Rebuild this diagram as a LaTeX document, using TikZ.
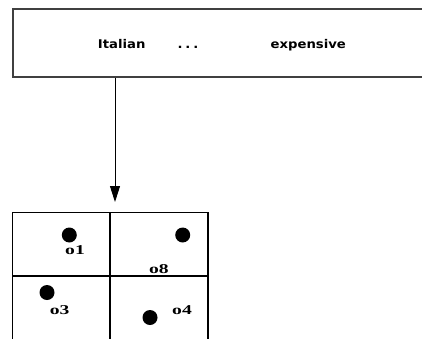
\documentclass[tikz,border=0pt]{standalone}
\usepackage{fontspec}
\usepackage{graphicx}
\setmainfont{Liberation Serif}
\newfontfamily\headfont{DejaVu Sans}
\usetikzlibrary{arrows.meta}
\newcommand{\widehead}[1]{\scalebox{1.1}[1]{#1}}
\newcommand{\widelabel}[1]{\scalebox{1.45}[1]{#1}}
\tikzset{
  x=1pt, y=-1pt,
  frame/.style={draw=black!75, line width=1.5pt},
  cellline/.style={draw=black, line width=1.3pt},
  attr/.style={font=\headfont\bfseries\fontsize{12}{13}\selectfont, inner sep=0pt, anchor=base},
  obj/.style={circle, fill=black, inner sep=0pt, minimum size=15pt},
  objlabel/.style={font=\bfseries\fontsize{13.5}{14}\selectfont, inner sep=0pt},
  link/.style={draw=black, line width=0.9pt, -{Triangle[length=16pt,width=10pt]}}
}
\begin{document}
\begin{tikzpicture}
  \useasboundingbox (0,0) rectangle (422,338);
  \clip (0,0) rectangle (422,338);

  % attribute header box
  \node[frame, minimum width=428pt, minimum height=68pt, anchor=north west, inner sep=0pt] (query) at (12,8) {};
  \node[attr] (italian) at (121.7,48) {\widehead{Italian}};
  \node[attr] (dots) at (188,48) {\widehead{.\kern2.5pt.\kern2.5pt.}};
  \node[attr] (expensive) at (308.3,48) {\widehead{expensive}};

  % grid of cells
  \coordinate (tip) at (115,202);
  \coordinate (gridnw) at (12.3,212.3);
  \coordinate (gridse) at (208,340);
  \draw[cellline] (gridnw) rectangle (gridse);
  \draw[cellline] (110,212.3) -- (110,340);
  \draw[cellline] (12.3,276) -- (208,276);

  % pointer from header to grid
  \draw[link] (query.south -| tip) -- (tip);

  % objects in the cells
  \node[obj] (p1) at (69.3,235) {};
  \node[objlabel] (l1) at (75,249.7) {\widelabel{o1}};
  \node[obj] (p8) at (182.7,235) {};
  \node[objlabel] (l8) at (158.8,268.7) {\widelabel{o8}};
  \node[obj] (p3) at (47,292.5) {};
  \node[objlabel] (l3) at (59.7,310.3) {\widelabel{o3}};
  \node[obj] (p4) at (150,317.5) {};
  \node[objlabel] (l4) at (182,310) {\widelabel{o4}};
\end{tikzpicture}
\end{document}
